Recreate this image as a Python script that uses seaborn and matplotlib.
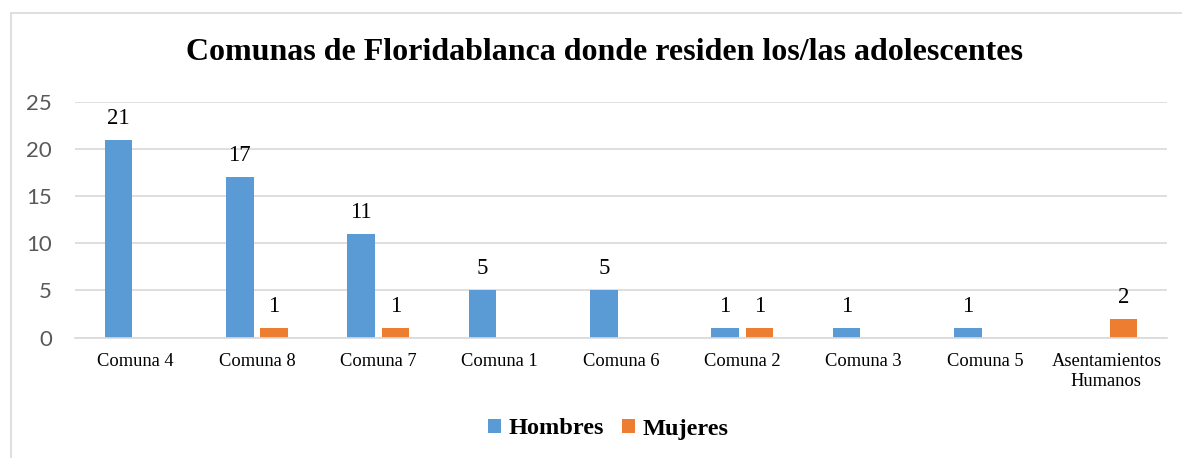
import matplotlib
matplotlib.use("Agg")
import matplotlib.pyplot as plt
import seaborn as sns
import pandas as pd
from matplotlib.patches import Patch
from matplotlib.lines import Line2D

categories = ["Comuna 4", "Comuna 8", "Comuna 7", "Comuna 1", "Comuna 6",
              "Comuna 2", "Comuna 3", "Comuna 5", "Asentamientos\nHumanos"]
hombres = [21, 17, 11, 5, 5, 1, 1, 1, 0]
mujeres = [0, 1, 1, 0, 0, 1, 0, 0, 2]
series = ["Hombres", "Mujeres"]
colors = ["#5B9BD5", "#ED7D31"]
yticks = [0, 5, 10, 15, 20, 25]
title = "Comunas de Floridablanca donde residen los/las adolescentes"

df = pd.DataFrame({
    "cat": categories * 2,
    "val": hombres + mujeres,
    "serie": [series[0]] * len(categories) + [series[1]] * len(categories),
})

sns.set_theme(style="white")
plt.rcParams["font.family"] = ["Liberation Serif", "DejaVu Serif"]
plt.rcParams["text.color"] = "black"

fig = plt.figure(figsize=(11.82, 4.58), dpi=100)
ax = fig.add_axes([75 / 1182, 1 - 337.5 / 458, (1167 - 75) / 1182, (337.5 - 102) / 458])

sns.barplot(data=df, x="cat", y="val", hue="serie", order=categories,
            hue_order=series, palette=colors, width=0.566, gap=0.2,
            saturation=1, ax=ax, legend=False, edgecolor="none")

ax.set_ylim(0, 25)
ax.set_xlim(-0.5, len(categories) - 0.5)
ax.set_yticks(yticks)
ax.set_yticklabels([str(v) for v in yticks], fontfamily="Lato", fontsize=16, color="#595959")
ax.tick_params(axis="y", length=0, pad=16.5)
ax.tick_params(axis="x", length=0, pad=11, labelsize=13.3, colors="black")
for lab in ax.get_xticklabels():
    lab.set_fontfamily("Liberation Serif")
    lab.set_linespacing(1.25)
ax.set_xlabel("")
ax.set_ylabel("")
ax.grid(axis="y", color="#D9D9D9", linewidth=1.2)
ax.set_axisbelow(True)
for s in ["top", "right", "left"]:
    ax.spines[s].set_visible(False)
ax.spines["bottom"].set_color("#D9D9D9")
ax.spines["bottom"].set_linewidth(1.2)

for cont, vals in zip(ax.containers, [hombres, mujeres]):
    ax.bar_label(cont, labels=[str(v) if v > 0 else "" for v in vals],
                 padding=8, fontsize=16.5, fontfamily="Liberation Serif", color="black")

fig.text(0.511, 1 - 53 / 458, title, ha="center", va="center", color="black",
         fontsize=23, fontweight="bold", fontfamily="Liberation Serif")

handles = [Patch(facecolor=c, edgecolor="none") for c in colors]
fig.legend(handles, series, loc="center", bbox_to_anchor=(0.5145, 1 - 429 / 458),
           ncol=2, frameon=False, labelcolor="black",
           prop={"family": "Liberation Serif", "weight": "bold", "size": 17.5},
           handlelength=0.55, handleheight=0.55, handletextpad=0.3, columnspacing=0.75)

ytop = 1 - 12.5 / 458
xleft = 11 / 1182
fig.lines.append(Line2D([xleft, xleft], [0, ytop], transform=fig.transFigure,
                        color="#D9D9D9", linewidth=1.2))
fig.lines.append(Line2D([xleft, 1], [ytop, ytop], transform=fig.transFigure,
                        color="#D9D9D9", linewidth=1.2))

fig.savefig("out.png", dpi=100)
